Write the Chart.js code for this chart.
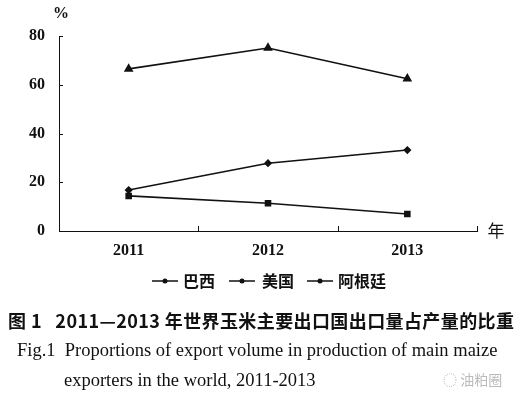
<!DOCTYPE html>
<html>
<head>
<meta charset="utf-8">
<script src="https://cdn.jsdelivr.net/npm/chart.js@4/dist/chart.umd.min.js"></script>
<style>
  body { margin: 0; background: #fff; }
  #wrap { position: relative; width: 518px; height: 399px; overflow: hidden; }
  #c { position: absolute; left: 0; top: 0; }
  .txt { position: absolute; white-space: nowrap; color: #111; }
  #capCn { left: 8px; top: 307px; font: bold 18px "Noto Sans CJK SC", sans-serif; letter-spacing: 0.4px; }
  #capEn1 { left: 17px; top: 340px; font: 18.5px "Liberation Serif", serif; }
  #capEn2 { left: 64px; top: 370px; font: 18.5px "Liberation Serif", serif; }
  #wm { left: 443px; top: 369px; font: 14px "Noto Sans CJK SC", sans-serif; color: #bbb; }
</style>
</head>
<body>
<div id="wrap">
  <canvas id="c" width="518" height="399"></canvas>
  <div class="txt" id="capCn">图 1&nbsp;&nbsp;&nbsp;2011—2013 年世界玉米主要出口国出口量占产量的比重</div>
  <div class="txt" id="capEn1">Fig.1&nbsp;&nbsp;Proportions of export volume in production of main maize</div>
  <div class="txt" id="capEn2">exporters in the world, 2011-2013</div>
  <div class="txt" id="wm">◌ 油粕圈</div>
</div>
<script>
// data
const years = ['2011', '2012', '2013'];
const brazil = [16.8, 27.8, 33.2];
const usa = [14.4, 11.4, 7.0];
const argentina = [66.5, 75.1, 62.5];
const yTicks = [0, 20, 40, 60, 80];

const tickFont = { family: 'Liberation Serif', size: 16, weight: 'bold' };

// small inward ticks, % and 年 labels, legend
const extras = {
  id: 'extras',
  afterDraw(chart) {
    const c = chart.ctx, a = chart.chartArea;
    const x = chart.scales.x, y = chart.scales.y;
    c.save();
    c.strokeStyle = '#111';
    c.lineWidth = 1;
    c.beginPath();
    yTicks.forEach(v => {
      const py = Math.round(y.getPixelForValue(v)) + 0.5;
      c.moveTo(a.left, py); c.lineTo(a.left + 4, py);
    });
    const bounds = [a.left];
    for (let i = 0; i < years.length - 1; i++) {
      bounds.push((x.getPixelForValue(i) + x.getPixelForValue(i + 1)) / 2);
    }
    bounds.push(a.right);
    bounds.forEach(px => {
      px = Math.round(px) + 0.5;
      c.moveTo(px, a.bottom); c.lineTo(px, a.bottom - 5);
    });
    c.stroke();

    c.fillStyle = '#111';
    c.font = 'bold 16px "Liberation Serif"';
    c.textAlign = 'center';
    c.textBaseline = 'middle';
    c.fillText('%', 61, 14);
    c.font = '17px "Noto Sans CJK SC"';
    c.fillText('年', 496, 231);

    // legend
    const items = [[152, 183], [229, 262], [307, 338]];
    c.font = 'bold 16px "Noto Sans CJK SC"';
    c.textAlign = 'left';
    chart.data.datasets.forEach((ds, i) => {
      const [lx, tx] = items[i];
      const ly = 281;
      c.lineWidth = 1.5;
      c.beginPath();
      c.moveTo(lx, ly); c.lineTo(lx + 26, ly);
      c.stroke();
      c.beginPath();
      c.arc(lx + 13, ly, 2.5, 0, Math.PI * 2);
      c.fill();
      c.fillText(ds.label, tx, ly);
    });
    c.restore();
  }
};

function series(label, data, style, radius) {
  return {
    label: label,
    data: data,
    borderColor: '#111',
    backgroundColor: '#111',
    borderWidth: 1.6,
    pointStyle: style,
    pointRadius: radius,
    pointHoverRadius: radius,
    tension: 0
  };
}

new Chart(document.getElementById('c'), {
  type: 'line',
  data: {
    labels: years,
    datasets: [
      series('巴西', brazil, 'rectRot', 3),
      series('美国', usa, 'rect', 3.5),
      series('阿根廷', argentina, 'triangle', 4)
    ]
  },
  options: {
    responsive: false,
    animation: false,
    layout: { padding: { top: 36, right: 41, left: 0, bottom: 138 } },
    scales: {
      x: {
        offset: true,
        afterFit: s => { s.height = 30; },
        grid: { display: true, drawOnChartArea: false, drawTicks: false, offset: true, color: 'rgba(0,0,0,0)' },
        border: { display: true, color: '#111', width: 1 },
        ticks: { color: '#111', font: tickFont, padding: 10, maxRotation: 0 }
      },
      y: {
        min: 0,
        max: 80,
        afterFit: s => { s.width = 59; },
        afterBuildTicks: s => { s.ticks = yTicks.map(v => ({ value: v })); },
        grid: { display: true, drawOnChartArea: false, drawTicks: false, color: 'rgba(0,0,0,0)' },
        border: { display: true, color: '#111', width: 1 },
        ticks: { color: '#111', font: tickFont, padding: 14 }
      }
    },
    plugins: {
      legend: { display: false },
      tooltip: { enabled: false }
    }
  },
  plugins: [extras]
});
</script>
</body>
</html>
